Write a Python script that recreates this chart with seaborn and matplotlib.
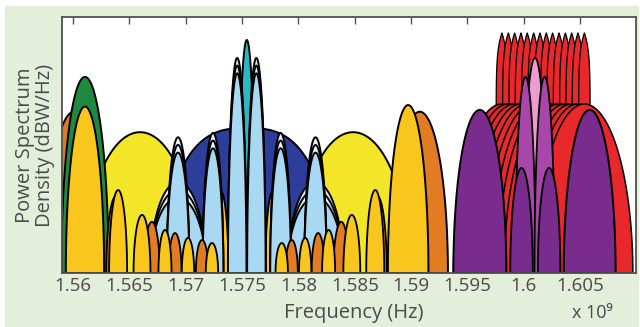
import numpy as np
import matplotlib
matplotlib.use("Agg")
import matplotlib.pyplot as plt
import seaborn as sns
from matplotlib.patches import Rectangle

# ---------------- data (frequencies in MHz, relative PSD level 0-100) ----------------
tick_values = [1.56, 1.565, 1.57, 1.575, 1.58, 1.585, 1.59, 1.595, 1.6, 1.605]
tick_labels = ["1.56", "1.565", "1.57", "1.575", "1.58", "1.585", "1.59", "1.595", "1.6", "1.605"]

prs_center = [1560.08, 1590.77]
prs_hw = [2.5, 2.5]
prs_peak = [63, 63]

lemon_center = [1565.95, 1584.85]
lemon_hw = [5.0, 5.0]
lemon_peak = [55, 55]

b1i_center = [1561.06]
b1i_hw = [2.1]
b1i_peak = [76.6]

b1q_center = [1561.06]
b1q_hw = [1.7]
b1q_peak = [65]

py_center = [1575.42]
py_hw = [7.5]
py_peak = [56.6]

gold_in_center = [1573.1, 1577.75]
gold_in_hw = [0.7, 0.7]
gold_in_peak = [32, 32]

lbw_center = [1569.32, 1581.52]
lbw_hw = [2.5, 2.5]
lbw_peak = [35.5, 35.5]

lbn_center = [1569.32, 1581.52]
lbn_hw = [1.0, 1.0]
lbn_peak = [53, 53]

lbs_center = [1572.42, 1578.42]
lbs_hw = [0.92, 0.92]
lbs_peak = [54.7, 54.7]

ca_center = [1575.42]
ca_hw = [0.75]
ca_peak = [91]

lbm_center = [1574.57, 1576.27]
lbm_hw = [0.82, 0.82]
lbm_peak = [84, 84]

so_center = [1563.8, 1567.0, 1569.05, 1571.45, 1579.4, 1581.75, 1583.8, 1587.0]
so_hw = [0.85, 0.7, 0.58, 0.55, 0.55, 0.58, 0.7, 0.85]
so_peak = [30, 20, 15.6, 12.9, 12.9, 15.6, 20, 30]

sg_center = [1564.0, 1566.12, 1568.16, 1570.2, 1572.33, 1578.52, 1580.6, 1582.68, 1584.74, 1586.82]
sg_hw = [0.8, 0.75, 0.58, 0.55, 0.55, 0.55, 0.55, 0.58, 0.75, 0.8]
sg_peak = [32.4, 22.7, 16.8, 13.7, 11.7, 11.7, 13.7, 16.8, 22.7, 32.4]

b12_center = [1589.74]
b12_hw = [1.8]
b12_peak = [65.6]

glo_center = [1598.06, 1598.63, 1599.19, 1599.75, 1600.31, 1600.88, 1601.44,
              1602.0, 1602.56, 1603.13, 1603.69, 1604.25, 1604.81, 1605.38]
glo_ca_hw = [0.511] * 14
glo_ca_peak = [93.75] * 14
glo_p_hw = [4.3] * 14
glo_p_peak = [66] * 14

oc_big_center = [1596.1, 1605.85]
oc_big_hw = [2.35, 2.3]
oc_big_peak = [63.7, 63.7]

oc_pink_center = [1601.0]
oc_pink_hw = [1.1]
oc_pink_peak = [84]

oc_mag_center = [1600.15, 1601.85]
oc_mag_hw = [0.9, 0.9]
oc_mag_peak = [76.6, 76.6]

oc_small_center = [1599.8, 1602.25]
oc_small_hw = [1.0, 1.0]
oc_small_peak = [41, 41]

# ---------------- styles ----------------
C = {
    "orange": "#E27C22", "lemon": "#F3E527", "green": "#1F8A3E", "gold": "#F8C61C",
    "navy": "#2D3E9A", "lblue": "#A9D8F2", "stripe": "#E4F1FA", "cyan": "#2DB6C4",
    "red": "#E8282B", "purple": "#7A2B8E", "magenta": "#A846A9", "pink": "#EE9BD0",
}

# (centers, half widths, peaks, colour, shape-a, shape-b, stacked, line width)
layers = [
    (prs_center, prs_hw, prs_peak, "orange", 2.0, 0.5, False, 1.4),
    (lemon_center, lemon_hw, lemon_peak, "lemon", 2.0, 0.5, False, 1.4),
    (b1i_center, b1i_hw, b1i_peak, "green", 2.0, 0.5, False, 1.4),
    (b1q_center, b1q_hw, b1q_peak, "gold", 2.0, 0.5, False, 1.4),
    (py_center, py_hw, py_peak, "navy", 2.8, 0.5, False, 1.4),
    (gold_in_center, gold_in_hw, gold_in_peak, "gold", 2.0, 0.5, False, 1.4),
    (lbw_center, lbw_hw, lbw_peak, "lblue", 2.0, 0.5, True, 1.4),
    (lbn_center, lbn_hw, lbn_peak, "lblue", 2.0, 0.5, True, 1.4),
    (lbs_center, lbs_hw, lbs_peak, "lblue", 2.0, 0.5, True, 1.4),
    (ca_center, ca_hw, ca_peak, "cyan", 2.0, 0.5, False, 1.4),
    (lbm_center, lbm_hw, lbm_peak, "lblue", 2.0, 0.5, True, 1.4),
    (so_center, so_hw, so_peak, "orange", 2.0, 0.5, False, 1.3),
    (sg_center, sg_hw, sg_peak, "gold", 2.0, 0.5, False, 1.3),
    (b12_center, b12_hw, b12_peak, "gold", 2.0, 0.5, False, 1.4),
    (glo_center, glo_ca_hw, glo_ca_peak, "red", 1.0, 0.07, False, 0.9),
    (glo_center, glo_p_hw, glo_p_peak, "red", 2.0, 0.5, False, 1.1),
    (oc_big_center, oc_big_hw, oc_big_peak, "purple", 2.0, 0.5, False, 1.4),
    (oc_pink_center, oc_pink_hw, oc_pink_peak, "pink", 2.0, 0.5, False, 1.3),
    (oc_mag_center, oc_mag_hw, oc_mag_peak, "magenta", 2.0, 0.5, False, 1.3),
    (oc_small_center, oc_small_hw, oc_small_peak, "purple", 2.0, 0.5, False, 1.3),
]

# ---------------- figure ----------------
sns.set_theme(style="white")
plt.rcParams["font.family"] = ["Open Sans", "DejaVu Sans"]

fig = plt.figure(figsize=(6.4, 3.27), dpi=100)
fig.patch.set_facecolor("white")
bg = Rectangle((5 / 640, 0), 633 / 640, 1 - 6 / 327,
               transform=fig.transFigure, color="#E3EEDB", zorder=-10)
fig.add_artist(bg)

ax = fig.add_axes([62 / 640, 54 / 327, (636 - 62) / 640, (273 - 17) / 327])
ax.set_zorder(5)
ax.set_facecolor("white")


def draw_lobe(c, hw, peak, fc, a, b, lw, z):
    t = np.linspace(0, np.pi, 500)
    u = -np.cos(t)
    y = peak * np.clip(1 - np.abs(u) ** a, 0, 1) ** b
    x = (c + hw * u) / 1000.0
    ax.fill(x, y, fc=fc, ec="black", lw=lw, zorder=z, joinstyle="round")


z = 2
for centers, hws, peaks, col, a, b, stacked, lw in layers:
    for c, hw, pk in zip(centers, hws, peaks):
        if stacked:
            for k, off in enumerate([0.0, 3.0, 6.0]):
                fc = C["stripe"] if k < 2 else C[col]
                draw_lobe(c, hw, pk - off, fc, a, b, lw, z)
                z += 1
        else:
            draw_lobe(c, hw, pk, C[col], a, b, lw, z)
            z += 1

ax.set_xlim(1.55902, 1.60996)
ax.set_ylim(0, 100)
ax.set_xticks(tick_values)
ax.set_xticklabels(tick_labels)
ax.set_yticks([])
ax.tick_params(axis="x", direction="in", top=True, bottom=True, length=5, width=1.0,
               color="#555555", labelsize=13.5, labelcolor="#4a4a4a", pad=3)
for s in ax.spines.values():
    s.set_color("#505050")
    s.set_linewidth(1.3)
    s.set_zorder(1000)

fig.text(25 / 640, 1 - 145 / 327, "Power Spectrum", rotation=90,
         ha="center", va="center", fontsize=14.5, color="#4a4a4a")
fig.text(45 / 640, 1 - 145 / 327, "Density (dBW/Hz)", rotation=90,
         ha="center", va="center", fontsize=14.5, color="#4a4a4a")
fig.text(354 / 640, 1 - 313 / 327, "Frequency (Hz)", ha="center", va="center",
         fontsize=14.5, color="#4a4a4a")
fig.text(592 / 640, 1 - 313 / 327, "x 10\u2079", ha="center", va="center",
         fontsize=13, color="#4a4a4a")

fig.savefig("out.png", dpi=100)
